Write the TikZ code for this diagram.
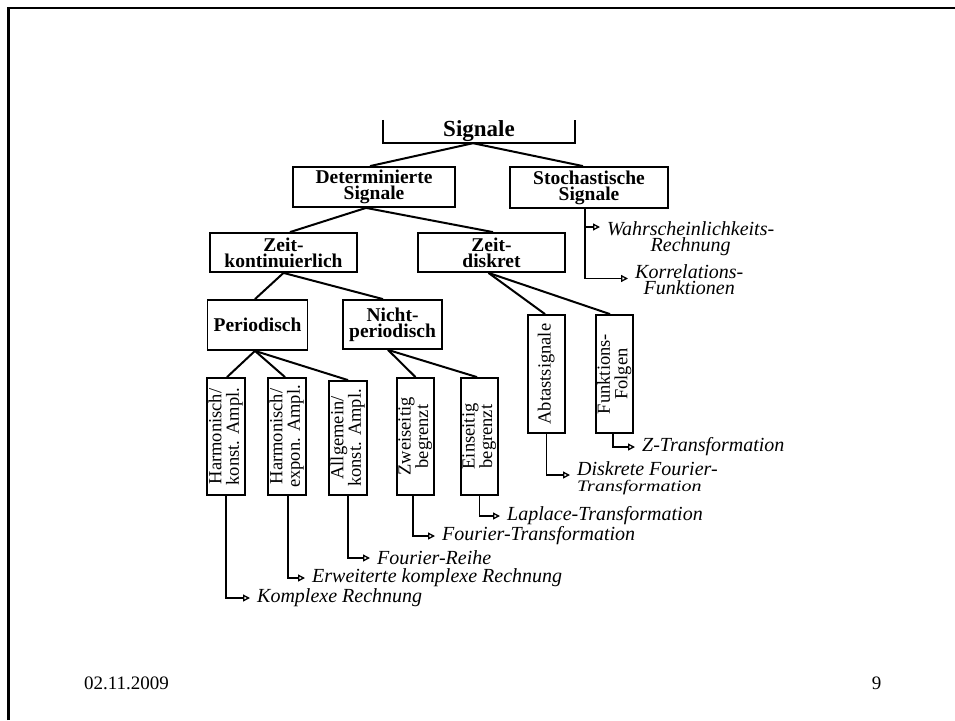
\documentclass[tikz,border=0pt]{standalone}
\usepackage{fontspec}
\setmainfont{Liberation Serif}
\usepackage{graphicx}
\usetikzlibrary{arrows.meta,calc}
\newcommand\vtxt[1]{\rotatebox{90}{\fontsize{18.5}{15.5}\selectfont\begin{tabular}{@{}c@{}}#1\end{tabular}}}
\tikzset{
  bx/.style={draw,line width=1.8pt,inner sep=0pt,align=center,font=\bfseries\fontsize{19.5}{16}\selectfont},
  vb/.style={draw,line width=1.8pt,inner sep=0pt,minimum width=38pt,minimum height=117pt},
  con/.style={line width=2pt},
  arr/.style={line width=1.3pt,-{Triangle[open,length=7pt,width=7pt,line width=1.3pt]}},
  lab/.style={font=\itshape\fontsize{20}{16}\selectfont,inner xsep=7pt,inner ysep=0pt,anchor=west},
}
\begin{document}
\begin{tikzpicture}[x=1pt,y=-1pt]
\useasboundingbox (0,0) rectangle (955,720);
\draw[line width=2.5pt] (8.5,720) -- (8.5,8) -- (955,8);

% top level
\node[inner sep=0pt,minimum width=192pt,minimum height=23pt,font=\bfseries\fontsize{23}{23}\selectfont] (sig) at (479,131.5) {Signale};
\draw[line width=1.8pt] (sig.north west) -- (sig.south west) -- (sig.south east) -- (sig.north east);

\node[bx,minimum width=162pt,minimum height=40pt] (det) at (374,187) {\raisebox{-1.5pt}{Determinierte}\\\raisebox{-1.5pt}{Signale}};
\node[bx,minimum width=158pt,minimum height=41pt] (sto) at (589,187.5) {\raisebox{-1.5pt}{Stochastische}\\\raisebox{-1.5pt}{Signale}};

\node[bx,minimum width=147pt,minimum height=39pt] (zk) at (283.5,252.5) {Zeit-\\kontinuierlich};
\node[bx,minimum width=147pt,minimum height=39pt] (zd) at (491.5,252.5) {Zeit-\\diskret};

\node[bx,minimum width=100pt,minimum height=50pt] (per) at (257.5,325) {Periodisch};
\node[bx,minimum width=99pt,minimum height=49pt] (np) at (392.5,324.5) {Nicht-\\periodisch};

\node[vb] (hk) at (226,436.5) {\vtxt{Harmonisch/\\konst. Ampl.}};
\node[vb] (he) at (287,436.5) {\vtxt{Harmonisch/\\expon. Ampl.}};
\node[vb,minimum height=114pt] (al) at (348,438) {\vtxt{Allgemein/\\konst. Ampl.}};
\node[vb,minimum width=37pt] (zw) at (415.5,436.5) {\vtxt{Zweiseitig\\begrenzt}};
\node[vb,minimum width=37pt] (ei) at (479.5,436.5) {\vtxt{Einseitig\\begrenzt}};
\node[vb,minimum width=37pt,minimum height=118pt] (ab) at (546.5,374) {\vtxt{Abtastsignale}};
\node[vb,minimum width=37pt,minimum height=118pt] (fu) at (614.5,374) {\vtxt{Funktions-\\Folgen}};

% tree connectors
\draw[con] ($(sig.south)+(-6,0)$) -- ($(det.north)+(-4,0)$);
\draw[con] ($(sig.south)+(-6,0)$) -- ($(sto.north)+(-6,0)$);
\draw[con] ($(det.south)+(-8,0)$) -- ($(zk.north)+(6.5,0)$);
\draw[con] ($(det.south)+(-8,0)$) -- ($(zd.north)+(1.5,0)$);
\draw[con] (zk.south) -- ($(per.north)+(-2.5,0)$);
\draw[con] (zk.south) -- ($(np.north)+(-9.5,0)$);
\draw[con] ($(zd.south)+(-3,0)$) -- ($(ab.north)+(-1.5,0)$);
\draw[con] ($(zd.south)+(-3,0)$) -- ($(fu.north)+(-4.5,0)$);
\draw[con] ($(per.south)+(-2.5,0)$) -- ($(hk.north)+(1,0)$);
\draw[con] ($(per.south)+(-2.5,0)$) -- ($(he.north)+(-2,0)$);
\draw[con] ($(per.south)+(-2.5,0)$) -- (al.north);
\draw[con] ($(np.south)+(-4.5,0)$) -- (zw.north);
\draw[con] ($(np.south)+(-4.5,0)$) -- ($(ei.north)+(-2.5,0)$);

% labels
\node[lab] (l1) at (250,598) {Komplexe Rechnung};
\node[lab] (l2) at (305,578) {Erweiterte komplexe Rechnung};
\node[lab] (l3) at (370,558) {Fourier-Reihe};
\node[lab] (l4) at (435,536) {Fourier-Transformation};
\node[lab] (l5) at (500,516) {Laplace-Transformation};
\node[lab,anchor=north west,align=left] (l6) at (570,461.5) {Diskrete Fourier-\\\scalebox{1}[0.8]{Transformation}};
\node[lab] (l7) at (635,447) {Z-Transformation};
\node[lab,anchor=north west,align=center] (l8) at (600,221) {Wahrscheinlichkeits-\\Rechnung};
\node[lab,anchor=north west,align=center] (l9) at (628,264) {Korrelations-\\Funktionen};

% arrows
\draw[arr] (hk.south) |- (l1.west);
\draw[arr] ($(he.south)+(1,0)$) |- (l2.west);
\draw[arr] (al.south) |- (l3.west);
\draw[arr] ($(zw.south)+(-2.5,0)$) |- (l4.west);
\draw[arr] (ei.south) |- (l5.west);
\draw[arr] (ab.south) |- ($(l6.north west)+(0,13.5)$);
\draw[arr] ($(fu.south)+(-1.5,0)$) |- (l7.west);
\draw[arr] ($(sto.south)+(-4,0)$) |- ($(l8.north west)+(0,6)$);
\draw[arr] ($(sto.south)+(-4,0)$) |- ($(l9.north west)+(0,14.5)$);

% footer
\node[font=\fontsize{19}{19}\selectfont,anchor=west,inner sep=0pt] (date) at (84,683) {02.11.2009};
\node[font=\fontsize{19}{19}\selectfont,inner sep=0pt] (pg) at (876.5,683) {9};
\end{tikzpicture}
\end{document}
